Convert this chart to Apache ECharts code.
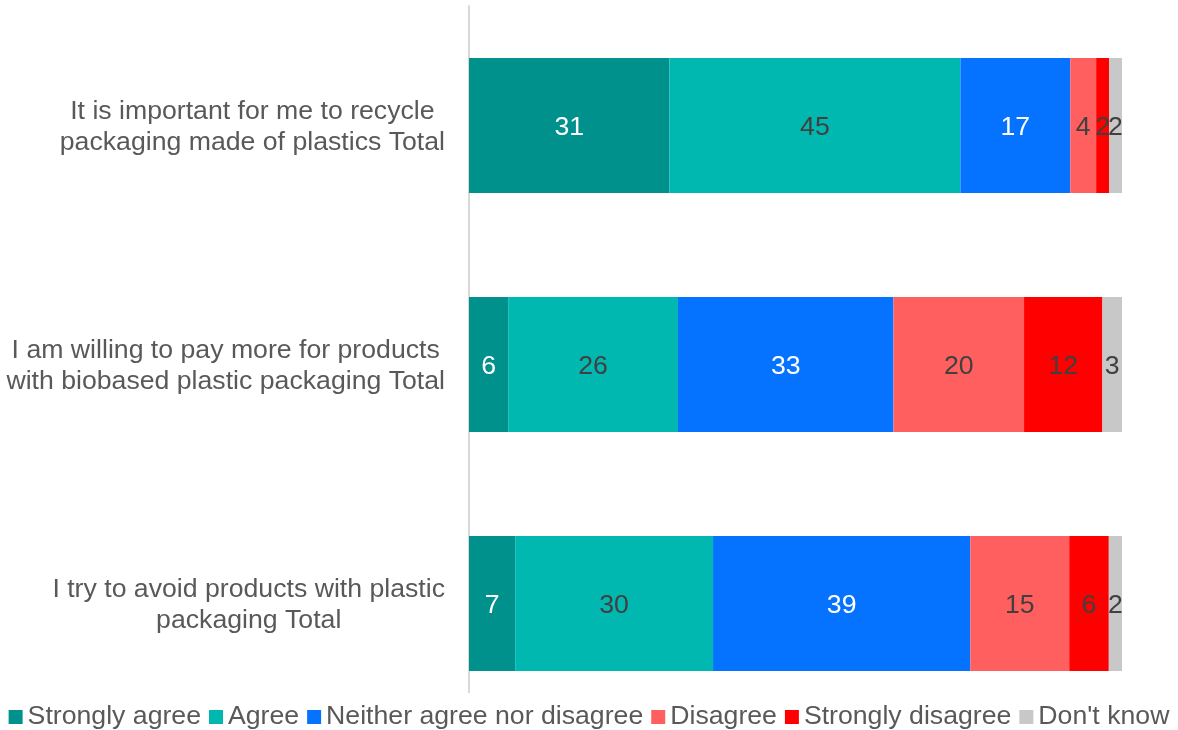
<!DOCTYPE html>
<html>
<head>
<meta charset="utf-8">
<style>
  html, body { margin: 0; padding: 0; background: #ffffff; }
  #chart { width: 1178px; height: 730px; }
</style>
<script src="https://cdn.jsdelivr.net/npm/echarts@6/dist/echarts.min.js"></script>
</head>
<body>
<div id="chart"></div>
<script>
// Survey statements (top to bottom) and answer shares in percent
const categories = [
  'It is important for me to recycle\npackaging made of plastics Total',
  'I am willing to pay more for products\nwith biobased plastic packaging Total',
  'I try to avoid products with plastic\npackaging Total'
];
const answerNames = ['Strongly agree', 'Agree', 'Neither agree nor disagree', 'Disagree', 'Strongly disagree', "Don't know"];
const stronglyAgree    = [31, 6, 7];
const agree            = [45, 26, 30];
const neither          = [17, 33, 39];
const disagree         = [4, 20, 15];
const stronglyDisagree = [2, 12, 6];
const dontKnow         = [2, 3, 2];

const answerValues = [stronglyAgree, agree, neither, disagree, stronglyDisagree, dontKnow];
const answerColors = ['#00918C', '#00B8B0', '#0573FF', '#FF5F5F', '#FF0000', '#C8C8C8'];
const labelColors  = ['#ffffff', '#404040', '#ffffff', '#404040', '#404040', '#404040'];

const FONT = '"Liberation Sans", Arial, Helvetica, sans-serif';
const FONT_SIZE = 26.67;

// Each bar is scaled to 100% of its row, labels keep the rounded percentages
const rowTotals = categories.map((_, i) => answerValues.reduce((s, arr) => s + arr[i], 0));

const series = answerNames.map((name, k) => ({
  name: name,
  type: 'bar',
  stack: 'total',
  barCategoryGap: '43.5%',
  itemStyle: { color: answerColors[k] },
  label: {
    show: true,
    position: 'inside',
    offset: [0, 2],
    fontFamily: FONT,
    fontSize: FONT_SIZE,
    color: labelColors[k],
    formatter: p => String(p.data.raw)
  },
  emphasis: { disabled: true },
  data: answerValues[k].map((v, i) => ({ value: v / rowTotals[i] * 100, raw: v }))
}));

const chart = echarts.init(document.getElementById('chart'), null, { renderer: 'canvas' });
chart.setOption({
  animation: false,
  backgroundColor: '#ffffff',
  textStyle: { fontFamily: FONT },
  grid: { left: 469, right: 56, top: 6, bottom: 7, containLabel: false },
  xAxis: {
    type: 'value',
    min: 0,
    max: 100,
    show: false
  },
  yAxis: {
    type: 'category',
    inverse: true,
    data: categories,
    axisTick: { show: false },
    axisLine: { show: true, lineStyle: { color: '#D9D9D9', width: 2 } },
    axisLabel: {
      margin: 24,
      align: 'right',
      padding: [4, 0, 0, 0],
      formatter: v => v.split('\n').map(line => '{c|' + line + '}').join('\n'),
      rich: {
        c: {
          align: 'center',
          fontFamily: FONT,
          fontSize: FONT_SIZE,
          lineHeight: 31,
          color: '#595959'
        }
      }
    }
  },
  legend: {
    data: answerNames,
    left: 'center',
    top: 693,
    z: 10,
    backgroundColor: '#ffffff',
    padding: [8, 4, 8, 4],
    icon: 'rect',
    itemWidth: 14,
    itemHeight: 14,
    itemGap: 8,
    selectedMode: false,
    textStyle: {
      fontFamily: FONT,
      fontSize: FONT_SIZE,
      lineHeight: 32,
      color: '#595959'
    }
  },
  series: series
});
</script>
</body>
</html>
